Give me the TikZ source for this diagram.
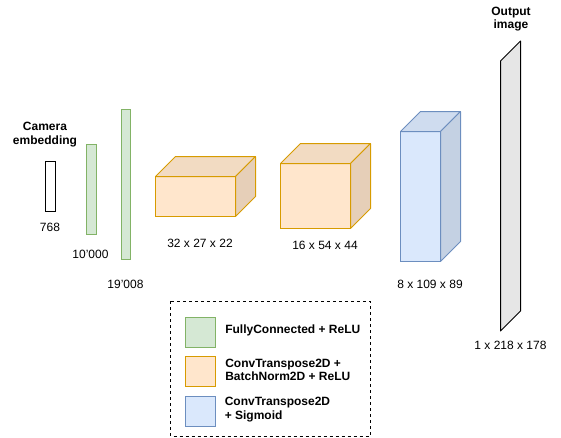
\documentclass[tikz,border=0pt]{standalone}
\usepackage{fontspec}
\setmainfont{Liberation Sans}
\definecolor{gfill}{HTML}{D5E8D4}\definecolor{gline}{HTML}{82B366}
\definecolor{ofill}{HTML}{FFE6CC}\definecolor{oline}{HTML}{D79B00}
\definecolor{otop}{HTML}{F2DBC2}\definecolor{oside}{HTML}{E6CFB8}
\definecolor{bfill}{HTML}{DAE8FC}\definecolor{bline}{HTML}{6C8EBF}
\definecolor{btop}{HTML}{CFDCEF}\definecolor{bside}{HTML}{C4D1E3}
\definecolor{outfill}{HTML}{E6E6E6}
\newcommand\drawcubeshape[8]{%
  \filldraw[draw=#8,fill=#5,line width=0.75pt] (#1,#2) rectangle (#3,#4);
  \filldraw[draw=#8,fill=#6,line width=0.75pt,line join=round] (#1,#2) -- ++(20,-20) -- (#3+20,#2-20) -- (#3,#2) -- cycle;
  \filldraw[draw=#8,fill=#7,line width=0.75pt,line join=round] (#3,#2) -- (#3+20,#2-20) -- (#3+20,#4-20) -- (#3,#4) -- cycle;
}
\tikzset{
  lbl/.style={font=\fontsize{9}{10.5}\selectfont, inner sep=0pt, align=center},
  bold/.style={font=\fontsize{9}{10}\selectfont\bfseries, inner sep=0pt, align=center},
  legtxt/.style={font=\fontsize{9}{10}\selectfont\bfseries, inner sep=0pt, align=left, anchor=west},
  bar/.style={line width=0.75pt},
}
\begin{document}
\begin{tikzpicture}[x=0.75pt,y=-0.75pt]
\useasboundingbox (0,0) rectangle (561,437);
% input
\node[bold] (camtxt) at (45,134.5) {Camera\\embedding};
\filldraw[bar,draw=black,fill=white] (45.5,161.5) rectangle (55.5,211);
\node[lbl] (l768) at (50,227) {768};
% FC layers
\filldraw[bar,draw=gline,fill=gfill] (86,144) rectangle (96,234);
\node[lbl] (l10k) at (90.5,254) {10'000};
\filldraw[bar,draw=gline,fill=gfill] (121,109) rectangle (130.5,259);
\node[lbl] (l19k) at (125.5,284) {19'008};
% cubes
\drawcubeshape{155.5}{176.5}{235.5}{216.5}{ofill}{otop}{oside}{oline}
\node[lbl] (l1) at (200,243) {32 x 27 x 22};
\drawcubeshape{280.5}{163.5}{350.5}{228.5}{ofill}{otop}{oside}{oline}
\node[lbl] (l2) at (325,245) {16 x 54 x 44};
\drawcubeshape{400.5}{131.5}{440.5}{261.5}{bfill}{btop}{bside}{bline}
\node[lbl] (l3) at (430,284) {8 x 109 x 89};
% output
\filldraw[bar,draw=black,fill=outfill,line join=round] (500.5,61) -- (520.5,41) -- (520.5,311) -- (500.5,331) -- cycle;
\node[bold] (outtxt) at (511,19) {Output\\image};
\node[lbl] (l4) at (510.5,345) {1 x 218 x 178};
% legend
\draw[bar,dash pattern=on 2.25pt off 2.25pt] (170.5,301) rectangle (370,436);
\filldraw[bar,draw=gline,fill=gfill] (185.5,317) rectangle (215.5,347);
\filldraw[bar,draw=oline,fill=ofill] (185.5,356.5) rectangle (215.5,386);
\filldraw[bar,draw=bline,fill=bfill] (185.5,396.5) rectangle (215.5,426);
\node[legtxt] (lg1) at (225,330) {FullyConnected + ReLU};
\node[legtxt] (lg2) at (225,370) {ConvTranspose2D +\\BatchNorm2D + ReLU};
\node[legtxt] (lg3) at (224.5,409.5) {ConvTranspose2D\\+ Sigmoid};
\end{tikzpicture}
\end{document}
